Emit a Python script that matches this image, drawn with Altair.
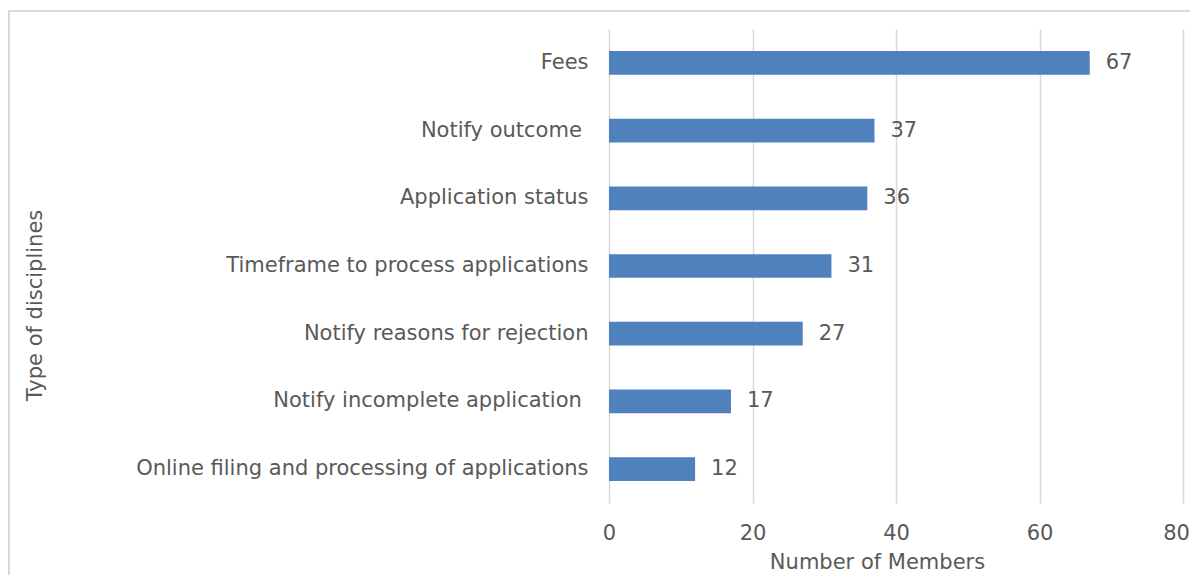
import altair as alt
import pandas as pd

categories = [
    "Fees",
    "Notify outcome\u00a0\u200b",
    "Application status",
    "Timeframe to process applications",
    "Notify reasons for rejection",
    "Notify incomplete application\u00a0\u200b",
    "Online filing and processing of applications",
]
values = [67, 37, 36, 31, 27, 17, 12]

df = pd.DataFrame({"cat": categories, "val": values})

FONT = "DejaVu Sans"
TXT = "#595959"
FS = 21

y_enc = alt.Y(
    "cat:N",
    sort=categories,
    title="Type of disciplines",
    scale=alt.Scale(paddingInner=0.65, paddingOuter=0.325),
    axis=alt.Axis(
        domain=False, ticks=False, labelPadding=21, labelFontSize=FS,
        labelColor=TXT, labelFont=FONT, titleFont=FONT, titleFontSize=FS,
        titleColor=TXT, titleFontWeight="normal", titleX=-564, titleY=276,
        labelLimit=600,
    ),
)
x_enc = alt.X(
    "val:Q",
    title="Number of Members",
    scale=alt.Scale(domain=[0, 80]),
    axis=alt.Axis(
        values=[0, 20, 40, 60, 80], domain=False, ticks=False, labelPadding=19,
        labelFontSize=FS, labelColor=TXT, labelFont=FONT, labelFlush=False,
        labelOffset=alt.expr("datum.value == 80 ? -7 : 0"),
        gridColor="#d9d9d9", gridWidth=1.5, titleFont=FONT, titleFontSize=FS,
        titleColor=TXT, titleFontWeight="normal", titleBaseline="alphabetic",
        titleY=65, titleX=268,
    ),
)

bars = alt.Chart(df).mark_bar(color="#4f81bd").encode(x=x_enc, y=y_enc)
labels = alt.Chart(df).mark_text(
    align="left", dx=16, fontSize=FS, font=FONT, color=TXT
).encode(x="val:Q", y=alt.Y("cat:N", sort=categories), text="val:Q")

frame = alt.Chart(pd.DataFrame({"a": [0]})).mark_rect(
    fill=None, stroke="#d9d9d9", strokeWidth=2
).encode(x=alt.value(-600), x2=alt.value(700), y=alt.value(-18), y2=alt.value(700))

chart = alt.layer(frame, bars, labels).properties(
    width=574, height=474,
    padding={"left": 601, "top": 21, "right": 7, "bottom": 72},
    autosize=alt.AutoSizeParams(type="none"),
).configure_view(stroke=None)

chart.save("out.html", embed_options={"renderer": "svg", "actions": False})
